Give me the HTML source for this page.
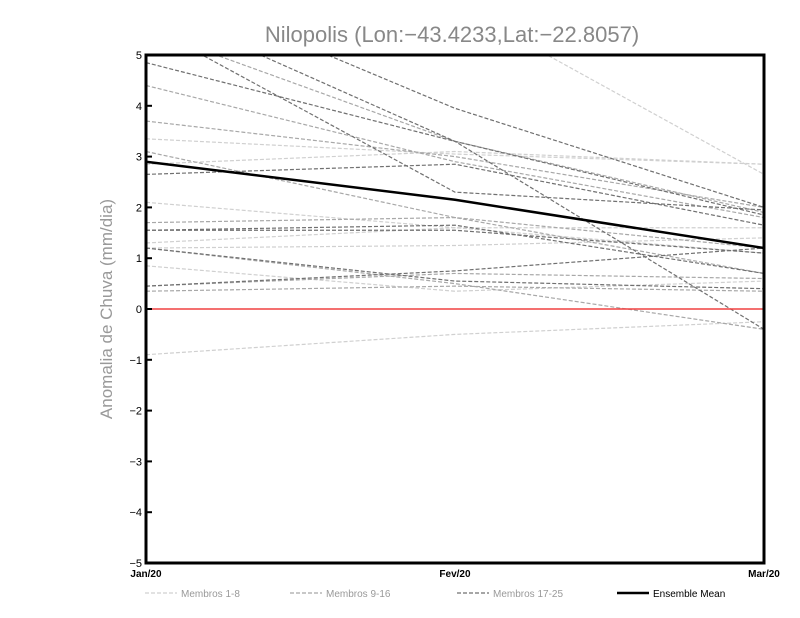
<!DOCTYPE html>
<html><head><meta charset="utf-8"><style>
body{margin:0;background:#fff}
svg{display:block}
</style></head><body>
<svg id="chart" width="800" height="618" xmlns="http://www.w3.org/2000/svg" font-family="Liberation Sans, sans-serif">
<defs><clipPath id="clip"><rect x="146" y="55" width="618" height="508"/></clipPath></defs>
<text x="452" y="42" text-anchor="middle" font-size="22" fill="#888">Nilopolis (Lon:−43.4233,Lat:−22.8057)</text>
<text transform="translate(112,309) rotate(-90)" text-anchor="middle" font-size="17" fill="#999">Anomalia de Chuva (mm/dia)</text>
<g id="grid" clip-path="url(#clip)"></g>
<g id="axes"></g>
</svg>
<script>
const categories = ['Jan/20','Fev/20','Mar/20'];
const yTicks = [-5,-4,-3,-2,-1,0,1,2,3,4,5];
const membersLight = [[8,6,2.65],[3.35,3.05,2.85],[2.85,3.1,2.85],[2.1,1.6,1.1],[1.3,1.6,1.6],[1.2,1.25,1.4],[0.85,0.35,0.55],[-0.9,-0.5,-0.25]];
const membersMid = [[4.4,2.9,1.8],[3.7,3.0,2.0],[3.1,1.8,0.7],[5.5,3.3,1.9],[1.7,1.8,1.2],[1.2,0.5,-0.4],[0.45,0.7,0.6],[0.35,0.45,0.35]];
const membersDark = [[4.85,3.3,1.85],[6.5,3.95,2.0],[5.6,2.3,1.95],[2.65,2.85,1.65],[1.55,1.65,0.7],[1.55,1.55,1.1],[1.2,0.55,0.4],[0.45,0.75,1.2],[6,3.3,-0.4]];
const ensembleMean = [2.9,2.15,1.2];

const NS='http://www.w3.org/2000/svg';
const X0=146,X1=764,Y0=563,Y1=55;
const xs=i=>X0+(X1-X0)*i/(categories.length-1);
const ys=v=>Y0-(v+5)/10*(Y0-Y1);
const g=document.getElementById('grid'), ax=document.getElementById('axes');
function mk(t,a,p){const e=document.createElementNS(NS,t);for(const k in a)e.setAttribute(k,a[k]);p.appendChild(e);return e;}
function series(arr,color,name){
  arr.forEach((s,j)=>{
    const e=mk('polyline',{points:s.map((v,i)=>xs(i)+','+ys(v)).join(' '),fill:'none',stroke:color,'stroke-width':1.2,'stroke-dasharray':'4,2'},g);
    
    
  });
}
series(membersLight,'#d0d0d0','member-light');
series(membersMid,'#a8a8a8','member-mid');
series(membersDark,'#707070','member-dark');
const zl=mk('line',{x1:X0,x2:X1,y1:ys(0),y2:ys(0),stroke:'#f04040','stroke-width':1.5},g);


const em=mk('polyline',{points:ensembleMean.map((v,i)=>xs(i)+','+ys(v)).join(' '),fill:'none',stroke:'#000','stroke-width':2.5},g);


const fr=mk('rect',{x:X0,y:Y1,width:X1-X0,height:Y0-Y1,fill:'none',stroke:'#000','stroke-width':3},ax);


yTicks.forEach(v=>{
  const t=mk('line',{x1:X0,x2:X0+6,y1:ys(v),y2:ys(v),stroke:'#000','stroke-width':2},ax);
  
  
  const l=mk('text',{x:X0-4,y:ys(v)+4,'text-anchor':'end','font-size':11,fill:'#000'},ax);
  l.textContent=String(v).replace('-','−');
  
  
});
categories.forEach((c,i)=>{
  const l=mk('text',{x:xs(i),y:577,'text-anchor':'middle','font-size':10,'font-weight':'bold',fill:'#000'},ax);
  l.textContent=c;
  
  
});
const legend=[['Membros 1-8','#d0d0d0',145,1.2,true],['Membros 9-16','#a8a8a8',290,1.2,true],['Membros 17-25','#707070',457,1.2,true],['Ensemble Mean','#000',617,2.5,false]];
legend.forEach(([t,c,x,w,d])=>{
  const a={x1:x,x2:x+32,y1:593,y2:593,stroke:c,'stroke-width':w};
  if(d)a['stroke-dasharray']='4,2';
  const ln=mk('line',a,ax);
  
  
  const tx=mk('text',{x:x+36,y:597,'font-size':10,fill:d?'#999':'#000'},ax);
  tx.textContent=t;
  
  
});
</script>
</body></html>
